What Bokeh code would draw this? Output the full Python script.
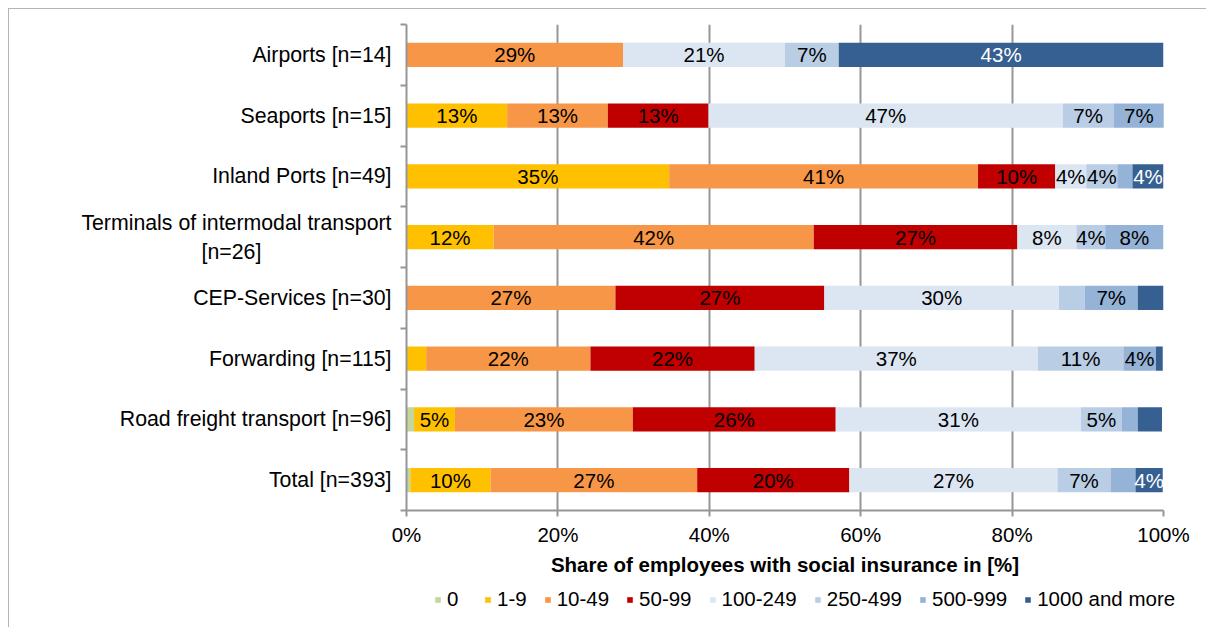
from bokeh.plotting import figure
from bokeh.models import (ColumnDataSource, Range1d, FixedTicker, Legend, LegendItem)
from bokeh.layouts import column
from bokeh.core.properties import value
from bokeh.embed import file_html
from bokeh.resources import INLINE

NBSP = "\u00a0"
categories = ["Airports [n=14]", "Seaports [n=15]", "Inland Ports [n=49]",
              "Terminals of intermodal transport\n[n=26]" + NBSP * 22, "CEP-Services [n=30]",
              "Forwarding [n=115]", "Road freight transport [n=96]", "Total [n=393]"]

series_names = ["0", "1-9", "10-49", "50-99", "100-249", "250-499", "500-999", "1000 and more"]
series_colors = ["#C3D69B", "#FFC000", "#F79646", "#C00000", "#DCE6F2", "#B9CDE5", "#95B3D7", "#376092"]

# shares in % per size class, categories top to bottom
s_0 = [0, 0, 0, 0, 0, 0, 1.0, 0.5]
s_1_9 = [0, 13.3, 34.7, 11.5, 0, 2.6, 5.4, 10.6]
s_10_49 = [28.6, 13.3, 40.8, 42.3, 27.6, 21.7, 23.5, 27.3]
s_50_99 = [0, 13.3, 10.2, 26.9, 27.6, 21.7, 26.8, 20.1]
s_100_249 = [21.4, 46.8, 4.1, 7.8, 31.0, 37.4, 32.4, 27.5]
s_250_499 = [7.1, 6.7, 4.1, 3.8, 3.4, 11.3, 5.4, 7.0]
s_500_999 = [0, 6.7, 2.0, 7.7, 7.0, 4.3, 2.1, 3.3]
s_1000 = [42.9, 0, 4.1, 0, 3.4, 0.9, 3.2, 3.6]

# data labels as printed in the chart ("" = no label)
l_0 = ["", "", "", "", "", "", "", ""]
l_1_9 = ["", "13%", "35%", "12%", "", "", "5%", "10%"]
l_10_49 = ["29%", "13%", "41%", "42%", "27%", "22%", "23%", "27%"]
l_50_99 = ["", "13%", "10%", "27%", "27%", "22%", "26%", "20%"]
l_100_249 = ["21%", "47%", "4%", "8%", "30%", "37%", "31%", "27%"]
l_250_499 = ["7%", "7%", "4%", "4%", "", "11%", "5%", "7%"]
l_500_999 = ["", "7%", "", "8%", "7%", "4%", "", ""]
l_1000 = ["43%", "", "4%", "", "", "", "", "4%"]

x_ticks = [0, 20, 40, 60, 80, 100]
x_tick_labels = ["0%", "20%", "40%", "60%", "80%", "100%"]
x_title = "Share of employees with social insurance in [%]"

series_vals = [s_0, s_1_9, s_10_49, s_50_99, s_100_249, s_250_499, s_500_999, s_1000]
series_labels = [l_0, l_1_9, l_10_49, l_50_99, l_100_249, l_250_499, l_500_999, l_1000]
label_colors = ["black"] * 7 + ["white"]

FONT = "Liberation Sans"
FS = "20.5px"
GRAY = "#969696"

p = figure(width=1197, height=573, output_backend="svg", toolbar_location=None,
           x_range=Range1d(0, 100), y_range=Range1d(len(categories), 0),
           min_border_left=397, min_border_right=43, min_border_top=15, min_border_bottom=72)
p.outline_line_color = None
p.frame_align = False

ys = [i + 0.5 for i in range(len(categories))]
left = [0.0] * len(categories)
for vals, labs, name, col, lcol in zip(series_vals, series_labels, series_names, series_colors, label_colors):
    right = [a + b for a, b in zip(left, vals)]
    src = ColumnDataSource(dict(y=ys, left=left, right=right))
    p.hbar(y="y", left="left", right="right", height=0.4, source=src,
           fill_color=col, line_color=None)
    xs = [(a + b) / 2 for a, b in zip(left, right)]
    tsrc = ColumnDataSource(dict(x=xs, y=ys, t=labs))
    p.text(x="x", y="y", text="t", source=tsrc, text_align="center", text_baseline="middle",
           text_font=value(FONT), text_font_size=FS, text_color=lcol)
    left = right

# x axis
xa = p.xaxis[0]
xa.ticker = FixedTicker(ticks=x_ticks)
xa.major_label_overrides = {t: l for t, l in zip(x_ticks, x_tick_labels)}
xa.axis_line_color = GRAY
xa.axis_line_width = 2
xa.major_tick_line_color = GRAY
xa.major_tick_line_width = 2
xa.major_tick_out = 6
xa.major_tick_in = 0
xa.minor_tick_line_color = None
xa.major_label_text_font = FONT
xa.major_label_text_font_size = FS
xa.major_label_text_color = "black"
xa.major_label_standoff = 6
xa.axis_label = x_title
xa.axis_label_text_font = FONT
xa.axis_label_text_font_size = FS
xa.axis_label_text_font_style = "bold"
xa.axis_label_text_color = "black"
xa.axis_label_standoff = 4

# y axis
ya = p.yaxis[0]
ya.ticker = FixedTicker(ticks=ys, minor_ticks=list(range(len(categories) + 1)))
ya.major_label_overrides = {y: c for y, c in zip(ys, categories)}
ya.axis_line_color = GRAY
ya.axis_line_width = 2
ya.major_tick_line_color = None
ya.major_tick_out = 0
ya.major_tick_in = 0
ya.minor_tick_line_color = GRAY
ya.minor_tick_line_width = 2
ya.minor_tick_out = 6
ya.minor_tick_in = 0
ya.major_label_text_font = FONT
ya.major_label_text_font_size = "21.3px"
ya.major_label_text_color = "black"
ya.major_label_standoff = 9

p.ygrid.grid_line_color = None
p.xgrid.ticker = FixedTicker(ticks=x_ticks)
p.xgrid.grid_line_color = GRAY
p.xgrid.grid_line_width = 2

# legend strip below the chart
pl = figure(width=1197, height=45, output_backend="svg", toolbar_location=None,
            x_range=Range1d(0, 1), y_range=Range1d(0, 1), x_axis_type=None, y_axis_type=None,
            min_border=0)
pl.outline_line_color = None
pl.frame_align = False
pl.grid.visible = False
items = []
for name, col in zip(series_names, series_colors):
    r = pl.quad(left=[5], right=[6], bottom=[5], top=[6], fill_color=col, line_color=None)
    items.append(LegendItem(label=name, renderers=[r]))
legend = Legend(items=items, orientation="horizontal", location=(425, 16),
                glyph_width=7, glyph_height=7, label_standoff=6, spacing=17,
                padding=0, margin=0, border_line_color=None, background_fill_alpha=0,
                label_text_font=FONT, label_text_font_size=FS, label_text_color="black",
                label_height=20)
pl.add_layout(legend, "center")

layout = column(p, pl, spacing=0)
layout.styles = {"margin-left": "8px", "margin-top": "8px",
                 "border-left": "1px solid #b4b4b4", "border-top": "1px solid #b4b4b4"}

open("out.html", "w").write(file_html(layout, INLINE))
